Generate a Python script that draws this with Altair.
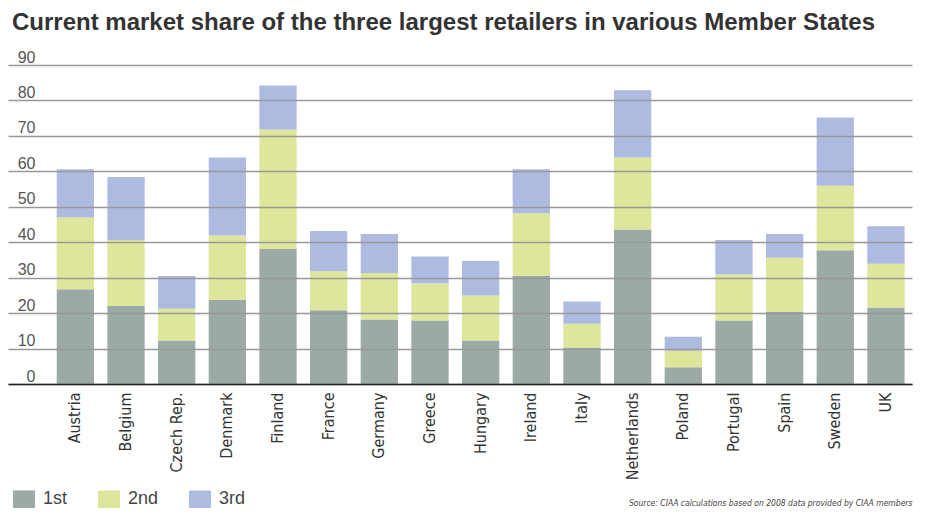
import altair as alt
import pandas as pd

countries = ["Austria", "Belgium", "Czech Rep.", "Denmark", "Finland", "France", "Germany",
             "Greece", "Hungary", "Ireland", "Italy", "Netherlands", "Poland", "Portugal",
             "Spain", "Sweden", "UK"]
first = [26.7, 22.0, 12.3, 23.8, 38.1, 20.8, 18.2, 17.9, 12.3, 30.5, 10.3, 43.6, 4.7, 17.9, 20.4, 37.7, 21.6]
second = [20.3, 18.6, 8.9, 18.1, 33.7, 11.0, 13.1, 10.5, 12.7, 17.7, 6.7, 20.3, 4.7, 13.0, 15.2, 18.2, 12.3]
third = [13.6, 17.8, 9.3, 22.0, 12.4, 11.4, 11.0, 7.6, 9.7, 12.4, 6.3, 19.0, 3.9, 9.7, 6.7, 19.3, 10.6]
ranks = ["1st", "2nd", "3rd"]
colors = ["#9BAAA6", "#DDE69A", "#AEBBE0"]
y_ticks = [0, 10, 20, 30, 40, 50, 60, 70, 80, 90]

title_text = "Current market share of the three largest retailers in various Member States"
source_text = "Source: CIAA calculations based on 2008 data provided by CIAA members"

narrow = "'Liberation Sans Narrow', 'Arial Narrow', 'DejaVu Sans Condensed', 'Roboto Condensed', 'Open Sans Condensed', sans-serif"

rows = []
for series_idx, (rank, vals) in enumerate(zip(ranks, [first, second, third])):
    for c, v in zip(countries, vals):
        rows.append({"country": c, "rank": rank, "order": series_idx, "value": v})
df = pd.DataFrame(rows)

chart = alt.Chart(df).mark_bar().encode(
    x=alt.X(
        "country:N",
        sort=countries,
        scale=alt.Scale(paddingInner=0.264, paddingOuter=0.554, align=0.868, round=False),
        axis=alt.Axis(
            title=source_text,
            titleX=904, titleY=121, titleAlign="right", titleBaseline="alphabetic",
            titleFont=narrow, titleFontStyle="italic", titleFontWeight="normal",
            titleFontSize=8.5, titleColor="#444",
            domain=True, domainColor="#222", domainWidth=1.5,
            ticks=False, tickSize=0,
            labelAngle=-90, labelAlign="right", labelBaseline="middle", labelPadding=8,
            labelFont=narrow, labelFontSize=16, labelColor="#333",
            zindex=2,
        ),
    ),
    y=alt.Y(
        "value:Q",
        stack="zero",
        scale=alt.Scale(domain=[0, 90], nice=False),
        axis=alt.Axis(
            title=None,
            values=y_ticks,
            grid=True, gridColor="#999", gridWidth=1.5,
            domain=False, ticks=False, tickSize=0,
            labelAlign="right", labelBaseline="bottom", labelPadding=-27,
            labelFont="Liberation Sans", labelFontSize=16, labelColor="#555",
            zindex=1,
        ),
    ),
    color=alt.Color(
        "rank:N",
        scale=alt.Scale(domain=ranks, range=colors),
        legend=alt.Legend(
            title=None, orient="none", legendX=5, legendY=423, direction="horizontal",
            symbolType="M-1,-0.82H1V0.82H-1Z", symbolSize=484, symbolStrokeWidth=0,
            labelFont="Liberation Sans", labelFontSize=18, labelColor="#444",
            labelOffset=8, columnPadding=30, padding=0,
        ),
    ),
    order=alt.Order("order:Q", sort="ascending"),
).properties(
    width=904,
    height=319,
    title=alt.TitleParams(
        text=title_text, anchor="start", frame="group", font="Liberation Sans",
        fontSize=24, fontWeight="bold", color="#333", dx=4, offset=14,
    ),
    autosize=alt.AutoSizeParams(type="none"),
    padding={"left": 0, "top": 57, "right": 2, "bottom": 124},
).configure_view(stroke=None)

chart.save("out.html", embed_options={"renderer": "svg", "actions": False})
